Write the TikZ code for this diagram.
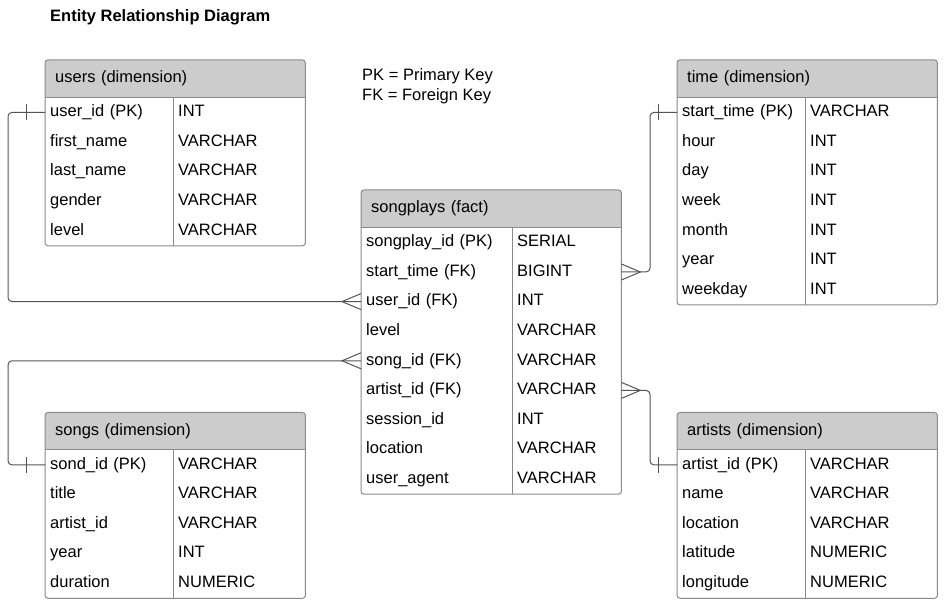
\documentclass[tikz,border=0pt]{standalone}
\usepackage{fontspec}
\setmainfont{Liberation Sans}
\usetikzlibrary{positioning,matrix}
\definecolor{hdrgray}{HTML}{CCCCCC}
\definecolor{framegray}{HTML}{8A8A8A}
\definecolor{relgray}{HTML}{555555}

\begin{document}
\begin{tikzpicture}[x=1pt, y=1pt, font=\fontsize{16.5}{20}\selectfont,
  hdr/.style={anchor=north west, fill=hdrgray, text width=240pt, align=left, inner xsep=10pt, inner ysep=0pt, minimum height=37pt, text height=12pt, text depth=3.5pt},
  tbl/.style 2 args={matrix of nodes, inner sep=0pt, row sep=0pt, column sep=0pt,
    nodes={inner xsep=5pt, inner ysep=7.05pt, text height=12pt, text depth=3.5pt, align=left},
    column 1/.style={nodes={text width=#1}}, column 2/.style={nodes={text width=#2}}},
  frame/.style={draw=framegray, line width=1pt, rounded corners=3pt},
  grid/.style={draw=framegray, line width=1pt},
  rel/.style={draw=relgray, line width=1pt, rounded corners=4pt},
  endmark/.style={draw=relgray, line width=1pt}]
\fill[white] (0,0) rectangle (945,604);
\useasboundingbox (0,0) rectangle (945,604);

\node[anchor=base west, inner sep=0pt, font=\fontsize{16.5}{20}\selectfont\bfseries] (title) at (50,582) {Entity Relationship Diagram};
\node[anchor=base west, inner sep=0pt] (pk) at (362,523) {PK = Primary Key};
\node[anchor=base west, inner sep=0pt] (fk) at (362,503) {FK = Foreign Key};

\node[hdr] (users) at (45,544) {users (dimension)};
\matrix (users-f) [tbl={118pt}{122pt}, below right=0pt of users.south west] {
  user\_id (PK) & INT \\
  first\_name & VARCHAR \\
  last\_name & VARCHAR \\
  gender & VARCHAR \\
  level & VARCHAR \\
};
\draw[frame] (users.north west) rectangle (users-f.south east);
\draw[grid] (users.south west) -- (users.south east) (users-f-1-2.north west) -- (users-f-5-2.south west);

\node[hdr] (songplays) at (361,414) {songplays (fact)};
\matrix (songplays-f) [tbl={141pt}{99pt}, below right=0pt of songplays.south west] {
  songplay\_id (PK) & SERIAL \\
  start\_time (FK) & BIGINT \\
  user\_id (FK) & INT \\
  level & VARCHAR \\
  song\_id (FK) & VARCHAR \\
  artist\_id (FK) & VARCHAR \\
  session\_id & INT \\
  location & VARCHAR \\
  user\_agent & VARCHAR \\
};
\draw[frame] (songplays.north west) rectangle (songplays-f.south east);
\draw[grid] (songplays.south west) -- (songplays.south east) (songplays-f-1-2.north west) -- (songplays-f-9-2.south west);

\node[hdr] (time) at (677,544) {time (dimension)};
\matrix (time-f) [tbl={118pt}{122pt}, below right=0pt of time.south west] {
  start\_time (PK) & VARCHAR \\
  hour & INT \\
  day & INT \\
  week & INT \\
  month & INT \\
  year & INT \\
  weekday & INT \\
};
\draw[frame] (time.north west) rectangle (time-f.south east);
\draw[grid] (time.south west) -- (time.south east) (time-f-1-2.north west) -- (time-f-7-2.south west);

\node[hdr] (songs) at (45,191.5) {songs (dimension)};
\matrix (songs-f) [tbl={118pt}{122pt}, below right=0pt of songs.south west] {
  sond\_id (PK) & VARCHAR \\
  title & VARCHAR \\
  artist\_id & VARCHAR \\
  year & INT \\
  duration & NUMERIC \\
};
\draw[frame] (songs.north west) rectangle (songs-f.south east);
\draw[grid] (songs.south west) -- (songs.south east) (songs-f-1-2.north west) -- (songs-f-5-2.south west);

\node[hdr] (artists) at (677,191.5) {artists (dimension)};
\matrix (artists-f) [tbl={118pt}{122pt}, below right=0pt of artists.south west] {
  artist\_id (PK) & VARCHAR \\
  name & VARCHAR \\
  location & VARCHAR \\
  latitude & NUMERIC \\
  longitude & NUMERIC \\
};
\draw[frame] (artists.north west) rectangle (artists-f.south east);
\draw[grid] (artists.south west) -- (artists.south east) (artists-f-1-2.north west) -- (artists-f-5-2.south west);

\draw[rel] (users-f-1-1.west) -- ++(-37,0) |- (songplays-f-3-1.west);
\draw[rel] (songs-f-1-1.west) -- ++(-37,0) |- (songplays-f-5-1.west);
\draw[rel] (time-f-1-1.west) -- ++(-27,0) |- (songplays-f-2-2.east);
\draw[rel] (artists-f-1-1.west) -- ++(-27,0) |- (songplays-f-6-2.east);

\foreach \n in {users,songs,time,artists}
  \draw[endmark] ([xshift=-19pt]\n-f-1-1.west) ++(0,8) -- ++(0,-16);
\foreach \r in {3,5}
  \draw[endmark] ([yshift=8pt]songplays-f-\r-1.west) -- ++(-19,-8) -- ++(19,-8);
\foreach \r in {2,6}
  \draw[endmark] ([yshift=8pt]songplays-f-\r-2.east) -- ++(19,-8) -- ++(-19,-8);
\end{tikzpicture}
\end{document}
